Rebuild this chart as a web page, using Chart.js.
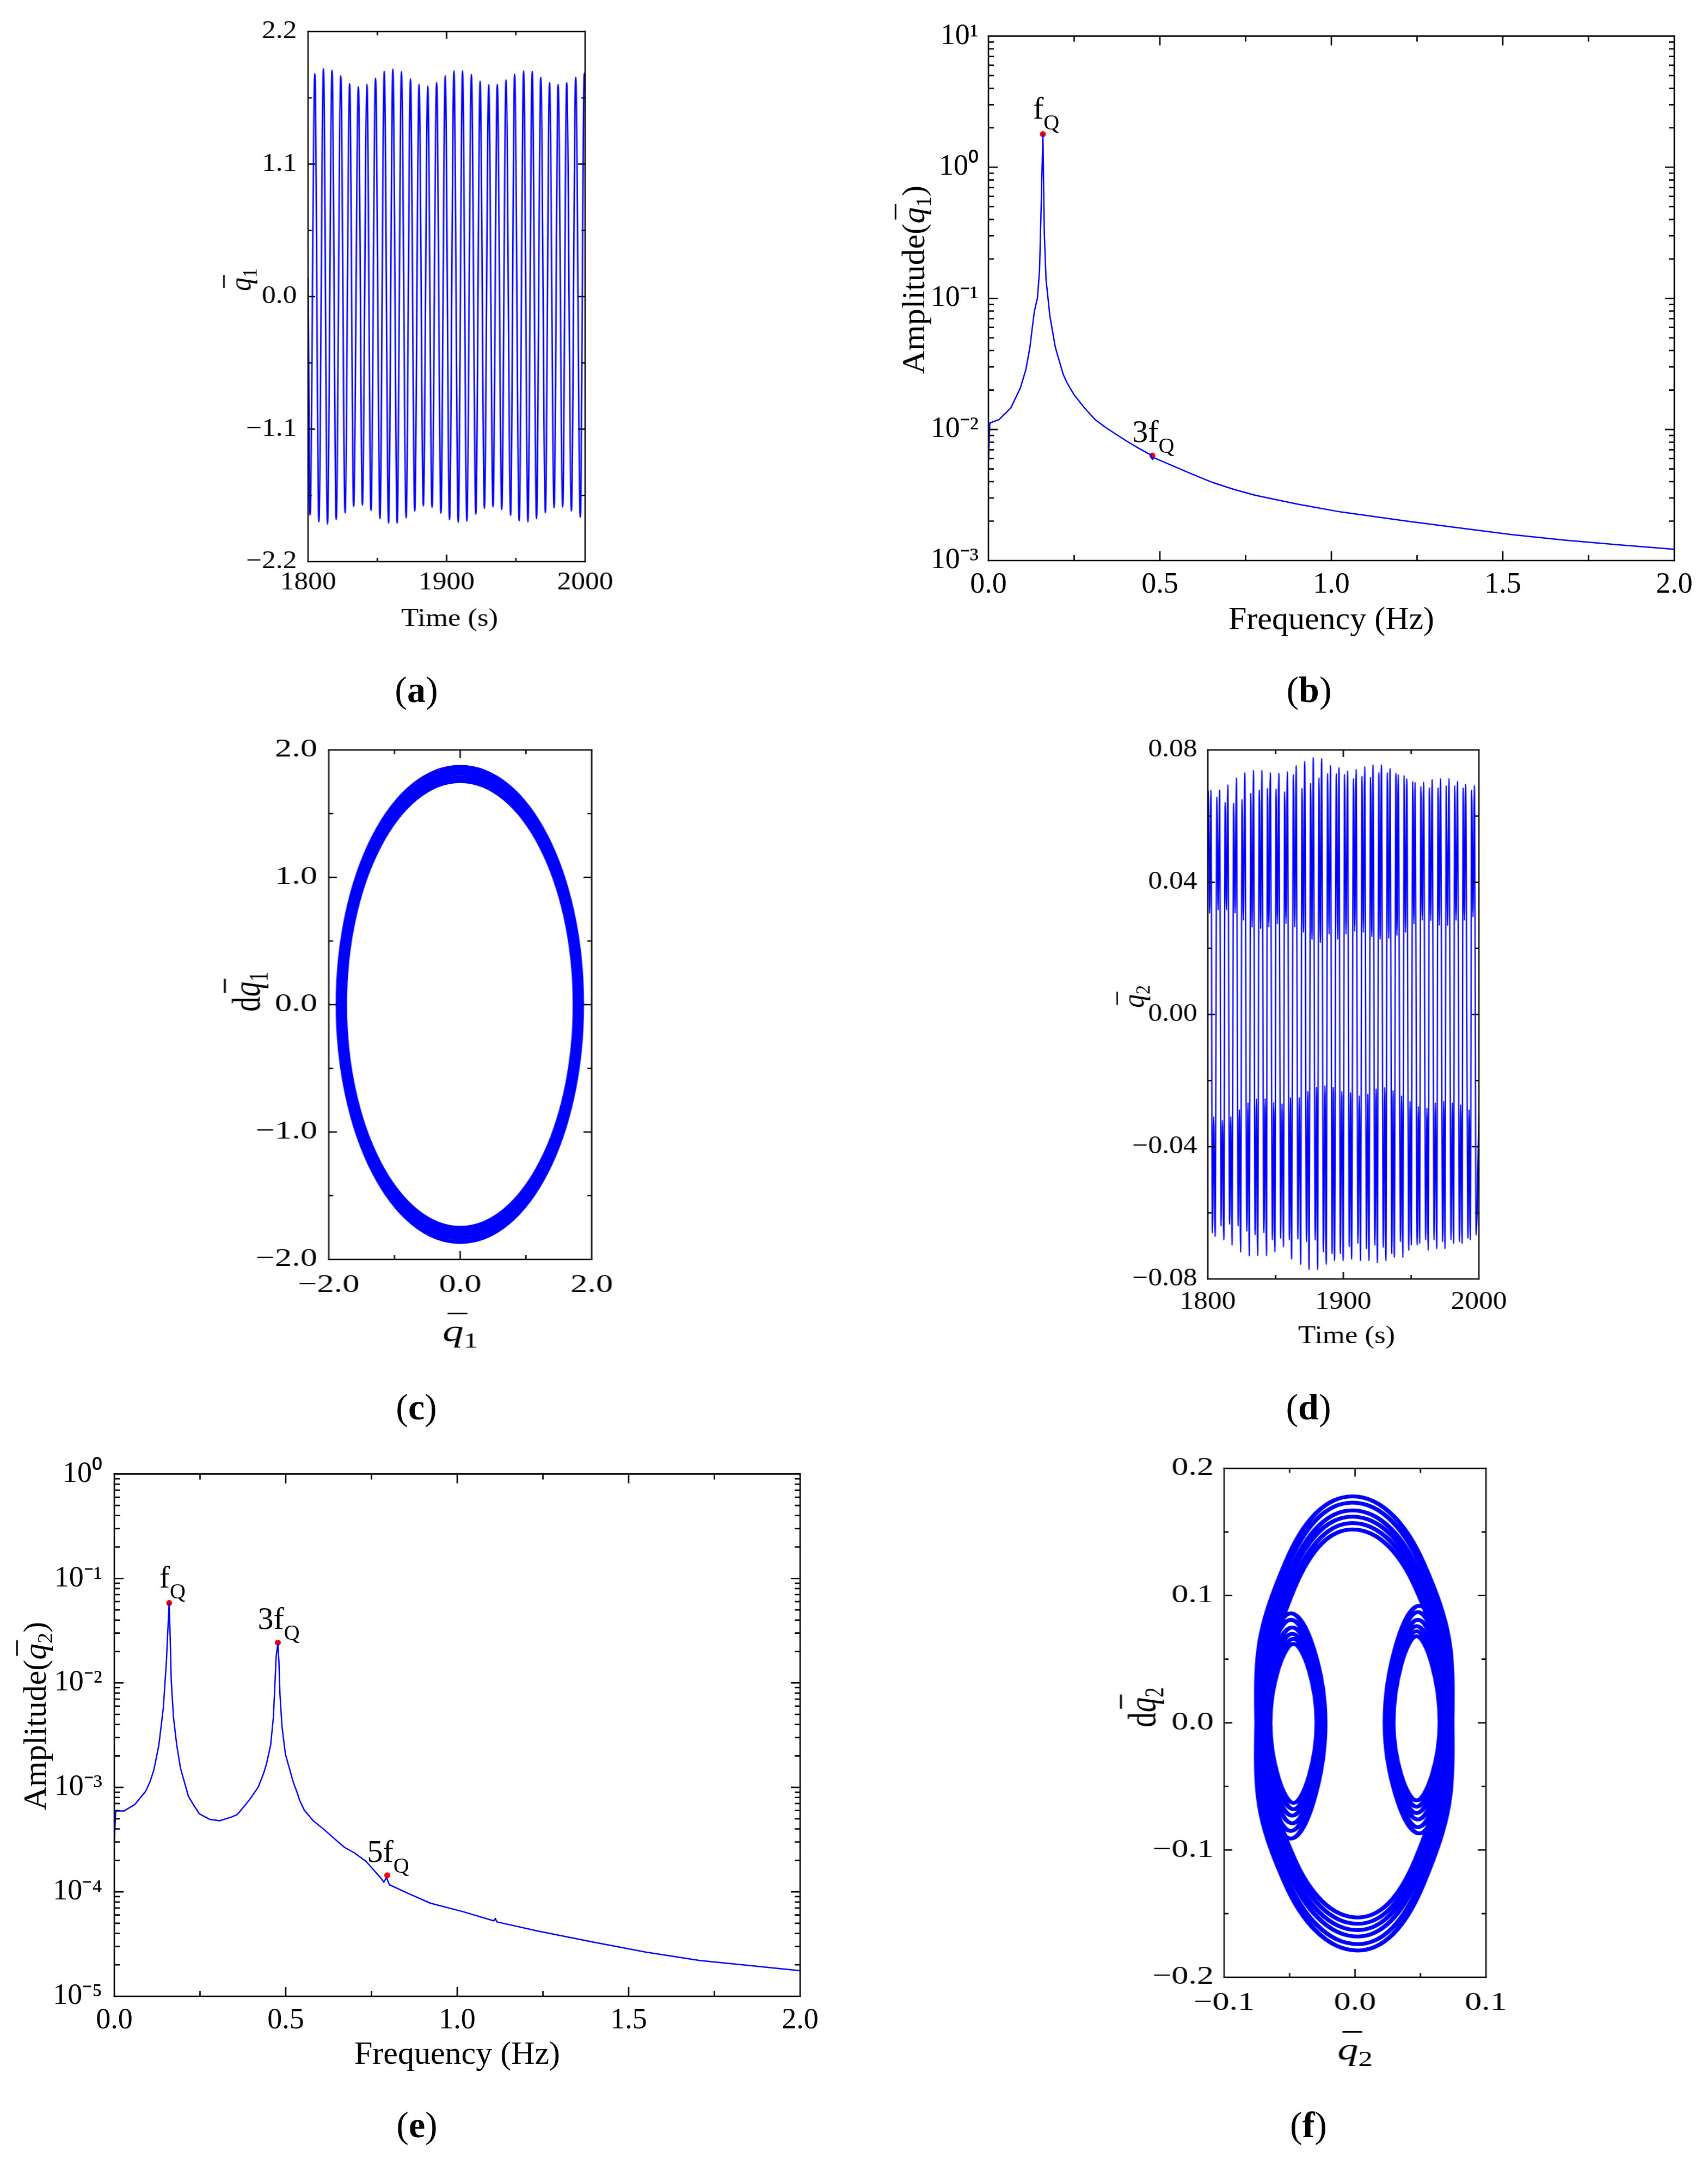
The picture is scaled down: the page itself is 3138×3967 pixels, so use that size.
<!DOCTYPE html>
<html lang="en">
<head>
<meta charset="utf-8">
<title>Response of q1 and q2</title>
<script src="https://cdn.jsdelivr.net/npm/chart.js@4.4.1/dist/chart.umd.min.js"></script>
<style>
  html, body { margin:0; padding:0; background:#ffffff; }
  body { position:relative; width:3138px; height:3967px; overflow:hidden; }
  canvas { position:absolute; display:block; }
  .cap { position:absolute; font-family:'Liberation Serif','Times New Roman',serif; font-size:68px; line-height:1; color:#000; white-space:nowrap; transform:translate(-50%,-50%); }
</style>
</head>
<body>
<div class="cap" style="left:765px;top:1267px">(<b>a</b>)</div>
<div class="cap" style="left:2405px;top:1267px">(<b>b</b>)</div>
<div class="cap" style="left:765px;top:2585px">(<b>c</b>)</div>
<div class="cap" style="left:2404px;top:2585px">(<b>d</b>)</div>
<div class="cap" style="left:766px;top:3904px">(<b>e</b>)</div>
<div class="cap" style="left:2404px;top:3904px">(<b>f</b>)</div>
<script>
// ===================== DATA =====================
// (a) q1 time history: local maxima / minima
const aPeakTime  = [1804.9,1811.1,1817.3,1823.6,1830.0,1836.3,1842.5,1848.7,1855.0,1861.2,1867.4,1873.9,1880.1,1886.4,1892.8,1899.0,1905.3,1911.5,1917.9,1924.2,1930.4,1936.6,1942.9,1949.1,1955.6,1961.8,1968.0,1974.3,1980.5,1986.7,1993.2,1999.4];
const aPeakValue = [1.852,1.893,1.882,1.833,1.769,1.743,1.762,1.814,1.870,1.889,1.867,1.807,1.762,1.747,1.777,1.833,1.874,1.874,1.844,1.788,1.758,1.762,1.799,1.848,1.874,1.870,1.822,1.777,1.762,1.777,1.822,1.855];
const aTroughTime  = [1801.4,1807.8,1814.0,1820.3,1826.7,1832.9,1839.2,1845.4,1851.9,1858.1,1864.3,1870.8,1877.0,1883.2,1889.5,1895.9,1902.1,1908.4,1914.6,1921.1,1927.3,1933.5,1939.8,1946.2,1952.4,1958.7,1964.9,1971.3,1977.6,1983.8,1990.1,1996.5];
const aTroughValue = [-1.814,-1.870,-1.889,-1.852,-1.796,-1.743,-1.732,-1.777,-1.844,-1.882,-1.882,-1.837,-1.781,-1.739,-1.751,-1.799,-1.852,-1.874,-1.863,-1.807,-1.758,-1.747,-1.769,-1.818,-1.863,-1.870,-1.844,-1.796,-1.754,-1.747,-1.781,-1.833];
const aEdgeTime  = [1800, 2000];
const aEdgeValue = [0.15, 1.84];
const aXTicks = [1800, 1850, 1900, 1950, 2000];
const aXLabeled = [1800, 1900, 2000];
const aYTicks = [-2.2, -1.65, -1.1, -0.55, 0, 0.55, 1.1, 1.65, 2.2];
const aYLabeled = [-2.2, -1.1, 0, 1.1, 2.2];

// (b) amplitude spectrum of q1
const bFreq = [0, 0.004, 0.031, 0.065, 0.093, 0.109, 0.121, 0.129, 0.134, 0.143, 0.149, 0.154, 0.1588, 0.163, 0.168, 0.179, 0.195, 0.218, 0.230, 0.249, 0.280, 0.311, 0.342, 0.374, 0.405, 0.436, 0.474, 0.478, 0.482, 0.529, 0.590, 0.654, 0.716, 0.778, 0.840, 0.903, 1.027, 1.214, 1.370, 1.525, 1.681, 1.837, 2.0];
const bAmp  = [0.00585, 0.0112, 0.0119, 0.01455, 0.0207, 0.0285, 0.0424, 0.063, 0.0797, 0.101, 0.163, 0.533, 1.79, 0.307, 0.139, 0.0738, 0.0424, 0.0263, 0.0225, 0.0185, 0.0146, 0.0119, 0.01035, 0.00912, 0.00809, 0.00724, 0.00638, 0.0059, 0.0061, 0.0054, 0.00461, 0.00394, 0.00349, 0.00315, 0.00291, 0.00269, 0.00235, 0.00201, 0.00178, 0.00158, 0.00143, 0.00132, 0.00122];
const bMarkFreq = [0.1588, 0.478];
const bMarkAmp  = [1.79, 0.00632];
const bMarkText = ['f', '3f'];
const bXTicks = [0, 0.25, 0.5, 0.75, 1, 1.25, 1.5, 1.75, 2];
const bXLabeled = [0, 0.5, 1, 1.5, 2];
const bYDecades = [1e-3, 1e-2, 1e-1, 1e0, 1e1];
const bYLabels  = ['10\u207B\u00B3', '10\u207B\u00B2', '10\u207B\u00B9', '10\u2070', '10\u00B9'];

// (c) phase portrait q1 - dq1 : extreme points of the superposed loops
const ringTop    = [1.868, 1.840, 1.812, 1.783, 1.755];
const ringRight  = [1.846, 1.822, 1.798, 1.774, 1.750];
const ringBottom = [-1.864, -1.836, -1.808, -1.780, -1.752];
const ringLeft   = [-1.856, -1.832, -1.808, -1.784, -1.760];
const cXTicks = [-2, -1, 0, 1, 2];
const cXLabeled = [-2, 0, 2];
const cYTicks = [-2, -1.5, -1, -0.5, 0, 0.5, 1, 1.5, 2];
const cYLabeled = [-2, -1, 0, 1, 2];

// (d) q2 time history: double maxima (peak1, dip, peak2) and double minima (trough1, bump, trough2)
const dUpT1 = [1800.4,1806.7,1812.8,1819.1,1825.3,1831.7,1838.0,1844.0,1850.4,1856.7,1863.2,1869.5,1875.9,1882.0,1888.4,1894.8,1900.9,1907.5,1913.8,1920.1,1926.2,1932.5,1938.8,1944.9,1951.2,1957.2,1963.5,1969.9,1975.9,1982.2,1988.4,1994.7];
const dUpV1 = [0.0676,0.0658,0.0642,0.0639,0.0651,0.0669,0.0679,0.0684,0.0682,0.0674,0.0726,0.0684,0.0700,0.0716,0.0729,0.0729,0.0726,0.0714,0.0721,0.0718,0.0732,0.0732,0.0730,0.0723,0.0705,0.0690,0.0686,0.0686,0.0692,0.0692,0.0686,0.0679];
const dDipT = [1801.3,1807.7,1813.8,1820.1,1826.3,1832.7,1839.0,1845.0,1851.4,1857.7,1864.2,1870.5,1876.9,1883.0,1889.5,1895.8,1902.0,1908.4,1914.8,1921.0,1927.1,1933.5,1939.6,1945.9,1952.1,1958.2,1964.5,1970.8,1976.9,1983.2,1989.3,1995.7];
const dDipV = [0.0306,0.0316,0.0316,0.0306,0.0285,0.0264,0.0259,0.0264,0.0274,0.0274,0.0264,0.0248,0.0227,0.0217,0.0243,0.0227,0.0243,0.0251,0.0248,0.0235,0.0227,0.0230,0.0238,0.0248,0.0274,0.0285,0.0283,0.0269,0.0269,0.0285,0.0285,0.0295];
const dUpT2 = [1802.3,1808.7,1814.8,1821.1,1827.3,1833.7,1839.9,1846.1,1852.4,1858.7,1865.2,1871.5,1877.8,1884.0,1890.5,1896.8,1903.1,1909.4,1915.8,1921.9,1928.1,1934.5,1940.5,1946.8,1952.9,1959.2,1965.5,1971.7,1977.9,1984.2,1990.2,1996.7];
const dUpV2 = [0.0679,0.0679,0.0695,0.0716,0.0732,0.0739,0.0739,0.0732,0.0730,0.0735,0.0753,0.0766,0.0777,0.0774,0.0753,0.0747,0.0737,0.0742,0.0750,0.0755,0.0755,0.0744,0.0726,0.0713,0.0702,0.0703,0.0711,0.0714,0.0714,0.0705,0.0697,0.0693];
const dLowT1 = [1803.4,1809.8,1816.1,1822.4,1828.8,1834.9,1841.4,1847.7,1853.8,1860.2,1866.5,1872.8,1879.3,1885.3,1891.7,1897.8,1904.4,1910.8,1917.1,1923.3,1929.5,1935.8,1942.2,1948.3,1954.5,1960.8,1967.0,1973.3,1979.5,1985.7,1992.0,1998.0];
const dLowV1 = [-0.0661,-0.0640,-0.0635,-0.0640,-0.0656,-0.0667,-0.0661,-0.0682,-0.0677,-0.0682,-0.0680,-0.0688,-0.0682,-0.0719,-0.0724,-0.0724,-0.0703,-0.0693,-0.0709,-0.0698,-0.0705,-0.0724,-0.0688,-0.0714,-0.0698,-0.0682,-0.0682,-0.0688,-0.0682,-0.0688,-0.0677,-0.0667];
const dBumpT = [1804.4,1810.8,1817.0,1823.3,1829.7,1835.9,1842.3,1848.6,1854.8,1861.0,1867.5,1873.8,1880.2,1886.4,1892.6,1898.9,1905.3,1911.8,1918.0,1924.2,1930.5,1936.7,1943.0,1949.2,1955.4,1961.7,1967.9,1974.1,1980.4,1986.6,1992.8,2000.0];
const dBumpV = [-0.0309,-0.0320,-0.0309,-0.0288,-0.0267,-0.0254,-0.0254,-0.0265,-0.0270,-0.0251,-0.0251,-0.0232,-0.0220,-0.0215,-0.0220,-0.0232,-0.0236,-0.0246,-0.0241,-0.0225,-0.0220,-0.0230,-0.0246,-0.0262,-0.0278,-0.0283,-0.0267,-0.0262,-0.0267,-0.0272,-0.0288,-0.0300];
const dLowT2 = [1805.4,1811.8,1817.9,1824.2,1830.6,1836.8,1843.3,1849.5,1855.8,1861.8,1868.5,1874.7,1881.0,1887.4,1893.5,1899.9,1906.1,1912.7,1918.9,1925.1,1931.4,1937.6,1943.9,1950.1,1956.3,1962.6,1968.9,1975.0,1981.3,1987.6,1993.7];
const dLowV2 = [-0.0672,-0.0682,-0.0698,-0.0719,-0.0730,-0.0730,-0.0730,-0.0719,-0.0703,-0.0740,-0.0756,-0.0772,-0.0772,-0.0756,-0.0745,-0.0745,-0.0740,-0.0745,-0.0745,-0.0751,-0.0745,-0.0735,-0.0735,-0.0698,-0.0693,-0.0714,-0.0709,-0.0709,-0.0693,-0.0693,-0.0682];
const dStartTime = [1800];
const dStartValue = [0.050];
const dXTicks = [1800, 1850, 1900, 1950, 2000];
const dXLabeled = [1800, 1900, 2000];
const dYTicks = [-0.08, -0.06, -0.04, -0.02, 0, 0.02, 0.04, 0.06, 0.08];
const dYLabeled = [-0.08, -0.04, 0, 0.04, 0.08];

// (e) amplitude spectrum of q2
const eFreq = [0, 0.004, 0.028, 0.060, 0.091, 0.104, 0.115, 0.130, 0.143, 0.152, 0.157, 0.160, 0.163, 0.166, 0.1725, 0.182, 0.193, 0.216, 0.232, 0.248, 0.279, 0.307, 0.342, 0.358, 0.381, 0.397, 0.420, 0.436, 0.444, 0.456, 0.464, 0.469, 0.472, 0.477, 0.480, 0.483, 0.489, 0.499, 0.522, 0.533, 0.541, 0.554, 0.580, 0.609, 0.640, 0.671, 0.700, 0.734, 0.776, 0.786, 0.794, 0.802, 0.860, 0.922, 1.016, 1.107, 1.111, 1.116, 1.236, 1.393, 1.549, 1.707, 1.864, 2.0];
const eAmp  = [0.000296, 0.000594, 0.000594, 0.000686, 0.000914, 0.00113, 0.00145, 0.00255, 0.00579, 0.0162, 0.0367, 0.0583, 0.027, 0.0107, 0.00472, 0.00255, 0.00153, 0.000824, 0.000672, 0.000558, 0.000493, 0.000479, 0.00052, 0.000547, 0.000672, 0.000783, 0.00101, 0.00138, 0.00169, 0.00255, 0.00472, 0.0107, 0.0179, 0.0239, 0.0162, 0.00788, 0.00384, 0.00208, 0.00112, 0.000895, 0.000744, 0.000606, 0.000479, 0.000402, 0.000327, 0.000267, 0.000236, 0.000196, 0.000137, 0.000124, 0.000137, 0.000117, 0.0000955, 0.0000778, 0.0000647, 0.0000527, 0.0000555, 0.0000515, 0.0000421, 0.0000332, 0.0000265, 0.000022, 0.0000195, 0.0000176];
const eMarkFreq = [0.160, 0.477, 0.796];
const eMarkAmp  = [0.0583, 0.0243, 0.000144];
const eMarkText = ['f', '3f', '5f'];
const eXTicks = [0, 0.25, 0.5, 0.75, 1, 1.25, 1.5, 1.75, 2];
const eXLabeled = [0, 0.5, 1, 1.5, 2];
const eYDecades = [1e-5, 1e-4, 1e-3, 1e-2, 1e-1, 1e0];
const eYLabels  = ['10\u207B\u2075', '10\u207B\u2074', '10\u207B\u00B3', '10\u207B\u00B2', '10\u207B\u00B9', '10\u2070'];

// (f) phase portrait q2 - dq2 : key points of superposed cycles
// order: top, upper-right arc, right peak, right loop bottom, right dip, right loop top, right peak,
//        lower-right arc, bottom, lower-left arc, left peak, left loop top, left dip, left loop bottom, left peak, upper-left arc
const fCycle1 = [[-0.002,0.178],[0.052,0.126],[0.074,0],[0.049,-0.087],[0.023,0],[0.049,0.092],[0.074,0],[0.052,-0.127],[0.002,-0.179],[-0.053,-0.127],[-0.075,0],[-0.049,0.086],[-0.023,0],[-0.049,-0.091],[-0.075,0],[-0.053,0.126]];
const fCycle2 = [[-0.002,0.173],[0.051,0.122],[0.072,0],[0.048,-0.082],[0.024,0],[0.048,0.087],[0.072,0],[0.051,-0.123],[0.002,-0.174],[-0.052,-0.123],[-0.073,0],[-0.049,0.081],[-0.024,0],[-0.049,-0.085],[-0.073,0],[-0.052,0.122]];
const fCycle3 = [[-0.002,0.167],[0.049,0.118],[0.070,0],[0.048,-0.076],[0.025,0],[0.048,0.081],[0.070,0],[0.049,-0.119],[0.002,-0.168],[-0.050,-0.119],[-0.071,0],[-0.048,0.075],[-0.025,0],[-0.048,-0.079],[-0.071,0],[-0.050,0.118]];
const fCycle4 = [[-0.002,0.162],[0.048,0.115],[0.068,0],[0.047,-0.071],[0.026,0],[0.047,0.076],[0.068,0],[0.048,-0.115],[0.002,-0.163],[-0.049,-0.115],[-0.069,0],[-0.048,0.070],[-0.026,0],[-0.048,-0.073],[-0.069,0],[-0.049,0.115]];
const fCycle5 = [[-0.002,0.157],[0.047,0.111],[0.066,0],[0.047,-0.066],[0.028,0],[0.047,0.072],[0.066,0],[0.047,-0.112],[0.002,-0.158],[-0.047,-0.112],[-0.067,0],[-0.047,0.066],[-0.028,0],[-0.047,-0.068],[-0.067,0],[-0.047,0.111]];
const fCycle6 = [[-0.002,0.152],[0.046,0.107],[0.065,0],[0.047,-0.061],[0.029,0],[0.047,0.068],[0.065,0],[0.046,-0.108],[0.002,-0.153],[-0.046,-0.108],[-0.065,0],[-0.047,0.062],[-0.029,0],[-0.047,-0.063],[-0.065,0],[-0.046,0.107]];
const fXTicks = [-0.1, -0.05, 0, 0.05, 0.1];
const fXLabeled = [-0.1, 0, 0.1];
const fYTicks = [-0.2, -0.15, -0.1, -0.05, 0, 0.05, 0.1, 0.15, 0.2];
const fYLabeled = [-0.2, -0.1, 0, 0.1, 0.2];

// ===================== HELPERS =====================
const FONT = "'Liberation Serif', 'Times New Roman', serif";
const BLUE = '#0000ff';
const RED = '#ff0000';
Chart.defaults.font.family = FONT;
Chart.defaults.color = '#000000';
Chart.defaults.animation = false;

function idxOf(list, v) {
  for (let i = 0; i < list.length; i++) {
    const l = list[i];
    if (l === v || Math.abs(l - v) <= 1e-6 * Math.max(Math.abs(l), 1e-12)) return i;
  }
  return -1;
}
function fmt(v, d) { return (v < -1e-12 ? '\u2212' : '') + Math.abs(v).toFixed(d); }
function linTicks(arr) { return s => { s.ticks = arr.map(v => ({ value: v })); }; }
function logTicks(decades) {
  const out = [];
  for (let i = 0; i < decades.length - 1; i++) for (let m = 1; m <= 9; m++) out.push(decades[i] * m);
  out.push(decades[decades.length - 1]);
  return out;
}
function part(t, size, o) { return Object.assign({ t: t, size: size }, o || {}); }
function fontOf(p) { return (p.italic ? 'italic ' : '') + (p.bold ? 'bold ' : '') + p.size + 'px ' + FONT; }
function partsWidth(ctx, parts) {
  let w = 0;
  parts.forEach(p => { ctx.font = fontOf(p); w += ctx.measureText(p.t).width; });
  return w;
}
function drawParts(ctx, parts, x, base) {
  parts.forEach(p => {
    ctx.font = fontOf(p);
    const w = ctx.measureText(p.t).width;
    ctx.fillText(p.t, x, base + (p.dy || 0));
    if (p.bar) ctx.fillRect(x + p.size * 0.12, base - p.size * 0.9, w * 0.95, Math.max(2.5, p.size * 0.05));
    x += w;
  });
}
function drawTitle(ctx, parts, cx, cy, rot, size) {
  ctx.save();
  ctx.translate(cx, cy);
  if (rot) ctx.rotate(rot);
  ctx.textAlign = 'left'; ctx.textBaseline = 'alphabetic'; ctx.fillStyle = '#000';
  const w = partsWidth(ctx, parts);
  drawParts(ctx, parts, -w / 2, size * 0.33);
  ctx.restore();
}

// closes a dataset's path into a loop (phase portraits)
const loopPlugin = {
  id: 'loopclose',
  afterDatasetUpdate(chart, args) {
    const ds = chart.data.datasets[args.index];
    if (ds && ds.closedPath && args.meta && args.meta.dataset) {
      args.meta.dataset._loop = true;
      args.meta.dataset._fullLoop = true;
    }
  }
};

function makePanel(L, datasets, xCfg, yCfg, marks) {
  const pageL = L.box.l - L.ml, pageT = L.box.t - L.mt;
  const bw = L.box.r - L.box.l, bh = L.box.b - L.box.t;
  const pageW = L.ml + bw + L.mr, pageH = L.mt + bh + L.mb;
  const cw = Math.round(pageW / L.k);
  const k = pageW / cw;
  const cv = document.createElement('canvas');
  cv.width = cw; cv.height = pageH;
  cv.style.left = pageL + 'px'; cv.style.top = pageT + 'px';
  cv.style.width = pageW + 'px'; cv.style.height = pageH + 'px';
  document.body.appendChild(cv);
  const toC = (x, y) => [(x - pageL) / k, y - pageT];
  const yw = L.ml / k;
  const padR = cw - yw - bw / k;
  const tickFont = { family: FONT, size: L.tick };

  const deco = {
    id: 'deco',
    afterDatasetsDraw(chart) {
      const ctx = chart.ctx, a = chart.chartArea, sx = chart.scales.x, sy = chart.scales.y;
      const lw = L.lw;
      ctx.save();
      ctx.strokeStyle = '#000'; ctx.fillStyle = '#000'; ctx.lineCap = 'butt';
      // inward tick marks on all four sides
      ctx.lineWidth = lw / k;
      ctx.beginPath();
      sx.ticks.forEach(t => {
        const p = sx.getPixelForValue(t.value);
        if (p < a.left + 2 || p > a.right - 2) return;
        const len = t.label ? L.tickLen[0] : L.tickLen[1];
        ctx.moveTo(p, a.bottom); ctx.lineTo(p, a.bottom - len);
        ctx.moveTo(p, a.top); ctx.lineTo(p, a.top + len);
      });
      ctx.stroke();
      ctx.lineWidth = lw;
      ctx.beginPath();
      sy.ticks.forEach(t => {
        const p = sy.getPixelForValue(t.value);
        if (p < a.top + 2 || p > a.bottom - 2) return;
        const len = (t.label ? L.tickLen[0] : L.tickLen[1]) / k;
        ctx.moveTo(a.left, p); ctx.lineTo(a.left + len, p);
        ctx.moveTo(a.right, p); ctx.lineTo(a.right - len, p);
      });
      ctx.stroke();
      // frame
      ctx.lineWidth = lw;
      ctx.beginPath();
      ctx.moveTo(a.left - lw / (2 * k), a.top); ctx.lineTo(a.right + lw / (2 * k), a.top);
      ctx.moveTo(a.left - lw / (2 * k), a.bottom); ctx.lineTo(a.right + lw / (2 * k), a.bottom);
      ctx.stroke();
      ctx.lineWidth = lw / k;
      ctx.beginPath();
      ctx.moveTo(a.left, a.top - lw / 2); ctx.lineTo(a.left, a.bottom + lw / 2);
      ctx.moveTo(a.right, a.top - lw / 2); ctx.lineTo(a.right, a.bottom + lw / 2);
      ctx.stroke();
      // axis titles
      const xt = toC(L.xTitle.x, L.xTitle.y);
      drawTitle(ctx, L.xTitle.parts, xt[0], xt[1], 0, L.xTitle.parts[0].size);
      const yt = toC(L.yTitle.x, L.yTitle.y);
      drawTitle(ctx, L.yTitle.parts, yt[0], yt[1], -Math.PI / 2, L.yTitle.parts[0].size);
      // peak annotations
      if (marks) {
        ctx.textAlign = 'left'; ctx.textBaseline = 'alphabetic';
        marks.freq.forEach((f, i) => {
          const px = sx.getPixelForValue(f), py = sy.getPixelForValue(marks.amp[i]);
          const txt = marks.text[i];
          const off = txt.length === 1 ? [-18, -28] : [-37, -25];
          drawParts(ctx, [part(txt, 58), part('Q', 40, { dy: 20 })], px + off[0] / k, py + off[1]);
        });
      }
      ctx.restore();
    }
  };

  const xScale = Object.assign({
    type: 'linear', position: 'bottom',
    grid: { display: false, drawTicks: false }, border: { display: false },
    afterFit: s => { s.height = L.mb; }
  }, xCfg);
  xScale.ticks = Object.assign({ font: tickFont, color: '#000', padding: L.padX, maxRotation: 0, minRotation: 0, autoSkip: false, align: 'center' }, xCfg.ticks);
  const yScale = Object.assign({
    type: 'linear', position: 'left',
    grid: { display: false, drawTicks: false }, border: { display: false },
    afterFit: s => { s.width = yw; }
  }, yCfg);
  yScale.ticks = Object.assign({ font: tickFont, color: '#000', padding: L.padY / k, autoSkip: false }, yCfg.ticks);

  return new Chart(cv, {
    type: 'line',
    data: { datasets: datasets },
    options: {
      responsive: false, maintainAspectRatio: false, animation: false, devicePixelRatio: 1, events: [],
      layout: { padding: { left: 0, top: L.mt, right: padR, bottom: 0 } },
      plugins: { legend: { display: false }, tooltip: { enabled: false }, title: { display: false } },
      elements: { point: { radius: 0 }, line: { borderCapStyle: 'round', borderJoinStyle: 'round' } },
      scales: { x: xScale, y: yScale }
    },
    plugins: [loopPlugin, deco]
  });
}

function toPts(xs, ys) { return xs.map((x, i) => ({ x: x, y: ys[i] })); }
function sortPts(p) { return p.sort((u, v) => u.x - v.x); }
function lineDs(data, w, extra) {
  return Object.assign({ data: data, borderColor: BLUE, backgroundColor: BLUE, borderWidth: w, pointRadius: 0, fill: false, clip: 0 }, extra || {});
}
function markDs(data) {
  return { data: data, showLine: false, pointRadius: 5.5, pointBackgroundColor: RED, pointBorderColor: RED, pointBorderWidth: 0, clip: false };
}

// ===================== PANELS =====================
// (a)
const aPoints = sortPts([].concat(toPts(aPeakTime, aPeakValue), toPts(aTroughTime, aTroughValue), toPts(aEdgeTime, aEdgeValue)));
makePanel({
  box: { l: 566, r: 1075, t: 58, b: 1032 }, k: 1.12, tick: 46, ml: 220, mr: 100, mt: 50, mb: 190,
  padY: 20.5, padX: 11.4, tickLen: [13, 7], lw: 2.6,
  xTitle: { x: 826, y: 1134, parts: [part('Time (s)', 47)] },
  yTitle: { x: 442, y: 514, parts: [part('q', 50, { italic: true, bar: true }), part('1', 34, { dy: 10 })] }
}, [lineDs(aPoints, 2.5, { cubicInterpolationMode: 'monotone' })],
{ min: 1800, max: 2000, afterBuildTicks: linTicks(aXTicks), ticks: { callback: v => idxOf(aXLabeled, v) >= 0 ? fmt(v, 0) : '' } },
{ min: -2.2, max: 2.2, afterBuildTicks: linTicks(aYTicks), ticks: { callback: v => idxOf(aYLabeled, v) >= 0 ? fmt(v, 1) : '' } });

// (b)
makePanel({
  box: { l: 1816, r: 3076, t: 66, b: 1030 }, k: 1, tick: 54, ml: 220, mr: 100, mt: 50, mb: 190,
  padY: 18, padX: 12.6, tickLen: [17, 10], lw: 2.6,
  xTitle: { x: 2446, y: 1136, parts: [part('Frequency (Hz)', 60)] },
  yTitle: { x: 1678, y: 514, parts: [part('Amplitude(', 60), part('q', 60, { italic: true, bar: true }), part('1', 40, { dy: 12 }), part(')', 60)] }
}, [lineDs(toPts(bFreq, bAmp), 2.5, { tension: 0 }), markDs(toPts(bMarkFreq, bMarkAmp))],
{ min: 0, max: 2, afterBuildTicks: linTicks(bXTicks), ticks: { callback: v => idxOf(bXLabeled, v) >= 0 ? fmt(v, 1) : '' } },
{ type: 'logarithmic', min: 1e-3, max: 1e1, afterBuildTicks: linTicks(logTicks(bYDecades)), ticks: { callback: v => { const i = idxOf(bYDecades, v); return i >= 0 ? bYLabels[i] : ''; } } },
{ freq: bMarkFreq, amp: bMarkAmp, text: bMarkText });

// (c)
const cDatasets = ringTop.map((_, i) => lineDs(
  [{ x: 0, y: ringTop[i] }, { x: ringRight[i], y: 0 }, { x: 0, y: ringBottom[i] }, { x: ringLeft[i], y: 0 }],
  7, { tension: 0.55, closedPath: true }));
makePanel({
  box: { l: 604, r: 1087, t: 1378, b: 2314 }, k: 1.33, tick: 47, ml: 220, mr: 100, mt: 50, mb: 190,
  padY: 21, padX: 19.8, tickLen: [15, 8], lw: 2.6,
  xTitle: { x: 845.5, y: 2445, parts: [part('q', 58, { italic: true, bar: true }), part('1', 40, { dy: 12 })] },
  yTitle: { x: 453, y: 1822, parts: [part('d', 55), part('q', 55, { italic: true, bar: true }), part('1', 37, { dy: 11 })] }
}, cDatasets,
{ min: -2, max: 2, afterBuildTicks: linTicks(cXTicks), ticks: { callback: v => idxOf(cXLabeled, v) >= 0 ? fmt(v, 1) : '' } },
{ min: -2, max: 2, afterBuildTicks: linTicks(cYTicks), ticks: { callback: v => idxOf(cYLabeled, v) >= 0 ? fmt(v, 1) : '' } });

// (d)
const dPoints = sortPts([].concat(
  toPts(dUpT1, dUpV1), toPts(dDipT, dDipV), toPts(dUpT2, dUpV2),
  toPts(dLowT1, dLowV1), toPts(dBumpT, dBumpV), toPts(dLowT2, dLowV2),
  toPts(dStartTime, dStartValue)));
makePanel({
  box: { l: 2219, r: 2717, t: 1378, b: 2350 }, k: 1.12, tick: 46, ml: 220, mr: 100, mt: 50, mb: 190,
  padY: 19.5, padX: 15.4, tickLen: [13, 7], lw: 2.6,
  xTitle: { x: 2474, y: 2452, parts: [part('Time (s)', 47)] },
  yTitle: { x: 2083, y: 1831, parts: [part('q', 50, { italic: true, bar: true }), part('2', 34, { dy: 10 })] }
}, [lineDs(dPoints, 2.2, { cubicInterpolationMode: 'monotone' })],
{ min: 1800, max: 2000, afterBuildTicks: linTicks(dXTicks), ticks: { callback: v => idxOf(dXLabeled, v) >= 0 ? fmt(v, 0) : '' } },
{ min: -0.08, max: 0.08, afterBuildTicks: linTicks(dYTicks), ticks: { callback: v => idxOf(dYLabeled, v) >= 0 ? fmt(v, 2) : '' } });

// (e)
makePanel({
  box: { l: 210, r: 1470, t: 2704, b: 3668 }, k: 1, tick: 54, ml: 200, mr: 100, mt: 50, mb: 190,
  padY: 22, padX: 12.6, tickLen: [17, 10], lw: 2.6,
  xTitle: { x: 840, y: 3772, parts: [part('Frequency (Hz)', 60)] },
  yTitle: { x: 64, y: 3153, parts: [part('Amplitude(', 60), part('q', 60, { italic: true, bar: true }), part('2', 40, { dy: 12 }), part(')', 60)] }
}, [lineDs(toPts(eFreq, eAmp), 2.5, { tension: 0 }), markDs(toPts(eMarkFreq, eMarkAmp))],
{ min: 0, max: 2, afterBuildTicks: linTicks(eXTicks), ticks: { callback: v => idxOf(eXLabeled, v) >= 0 ? fmt(v, 1) : '' } },
{ type: 'logarithmic', min: 1e-5, max: 1e0, afterBuildTicks: linTicks(logTicks(eYDecades)), ticks: { callback: v => { const i = idxOf(eYDecades, v); return i >= 0 ? eYLabels[i] : ''; } } },
{ freq: eMarkFreq, amp: eMarkAmp, text: eMarkText });

// (f)
const fCycles = [fCycle1, fCycle2, fCycle3, fCycle4, fCycle5, fCycle6];
const fDatasets = fCycles.map(c => lineDs(c.map(p => ({ x: p[0], y: p[1] })), 7, { tension: 0.45, closedPath: true }));
makePanel({
  box: { l: 2249, r: 2730, t: 2698, b: 3633 }, k: 1.32, tick: 47, ml: 220, mr: 100, mt: 50, mb: 190,
  padY: 19, padX: 19.8, tickLen: [15, 8], lw: 2.6,
  xTitle: { x: 2489.5, y: 3765, parts: [part('q', 58, { italic: true, bar: true }), part('2', 40, { dy: 12 })] },
  yTitle: { x: 2099, y: 3137, parts: [part('d', 55), part('q', 55, { italic: true, bar: true }), part('2', 37, { dy: 11 })] }
}, fDatasets,
{ min: -0.1, max: 0.1, afterBuildTicks: linTicks(fXTicks), ticks: { callback: v => idxOf(fXLabeled, v) >= 0 ? fmt(v, 1) : '' } },
{ min: -0.2, max: 0.2, afterBuildTicks: linTicks(fYTicks), ticks: { callback: v => idxOf(fYLabeled, v) >= 0 ? fmt(v, 1) : '' } });
</script>
</body>
</html>
